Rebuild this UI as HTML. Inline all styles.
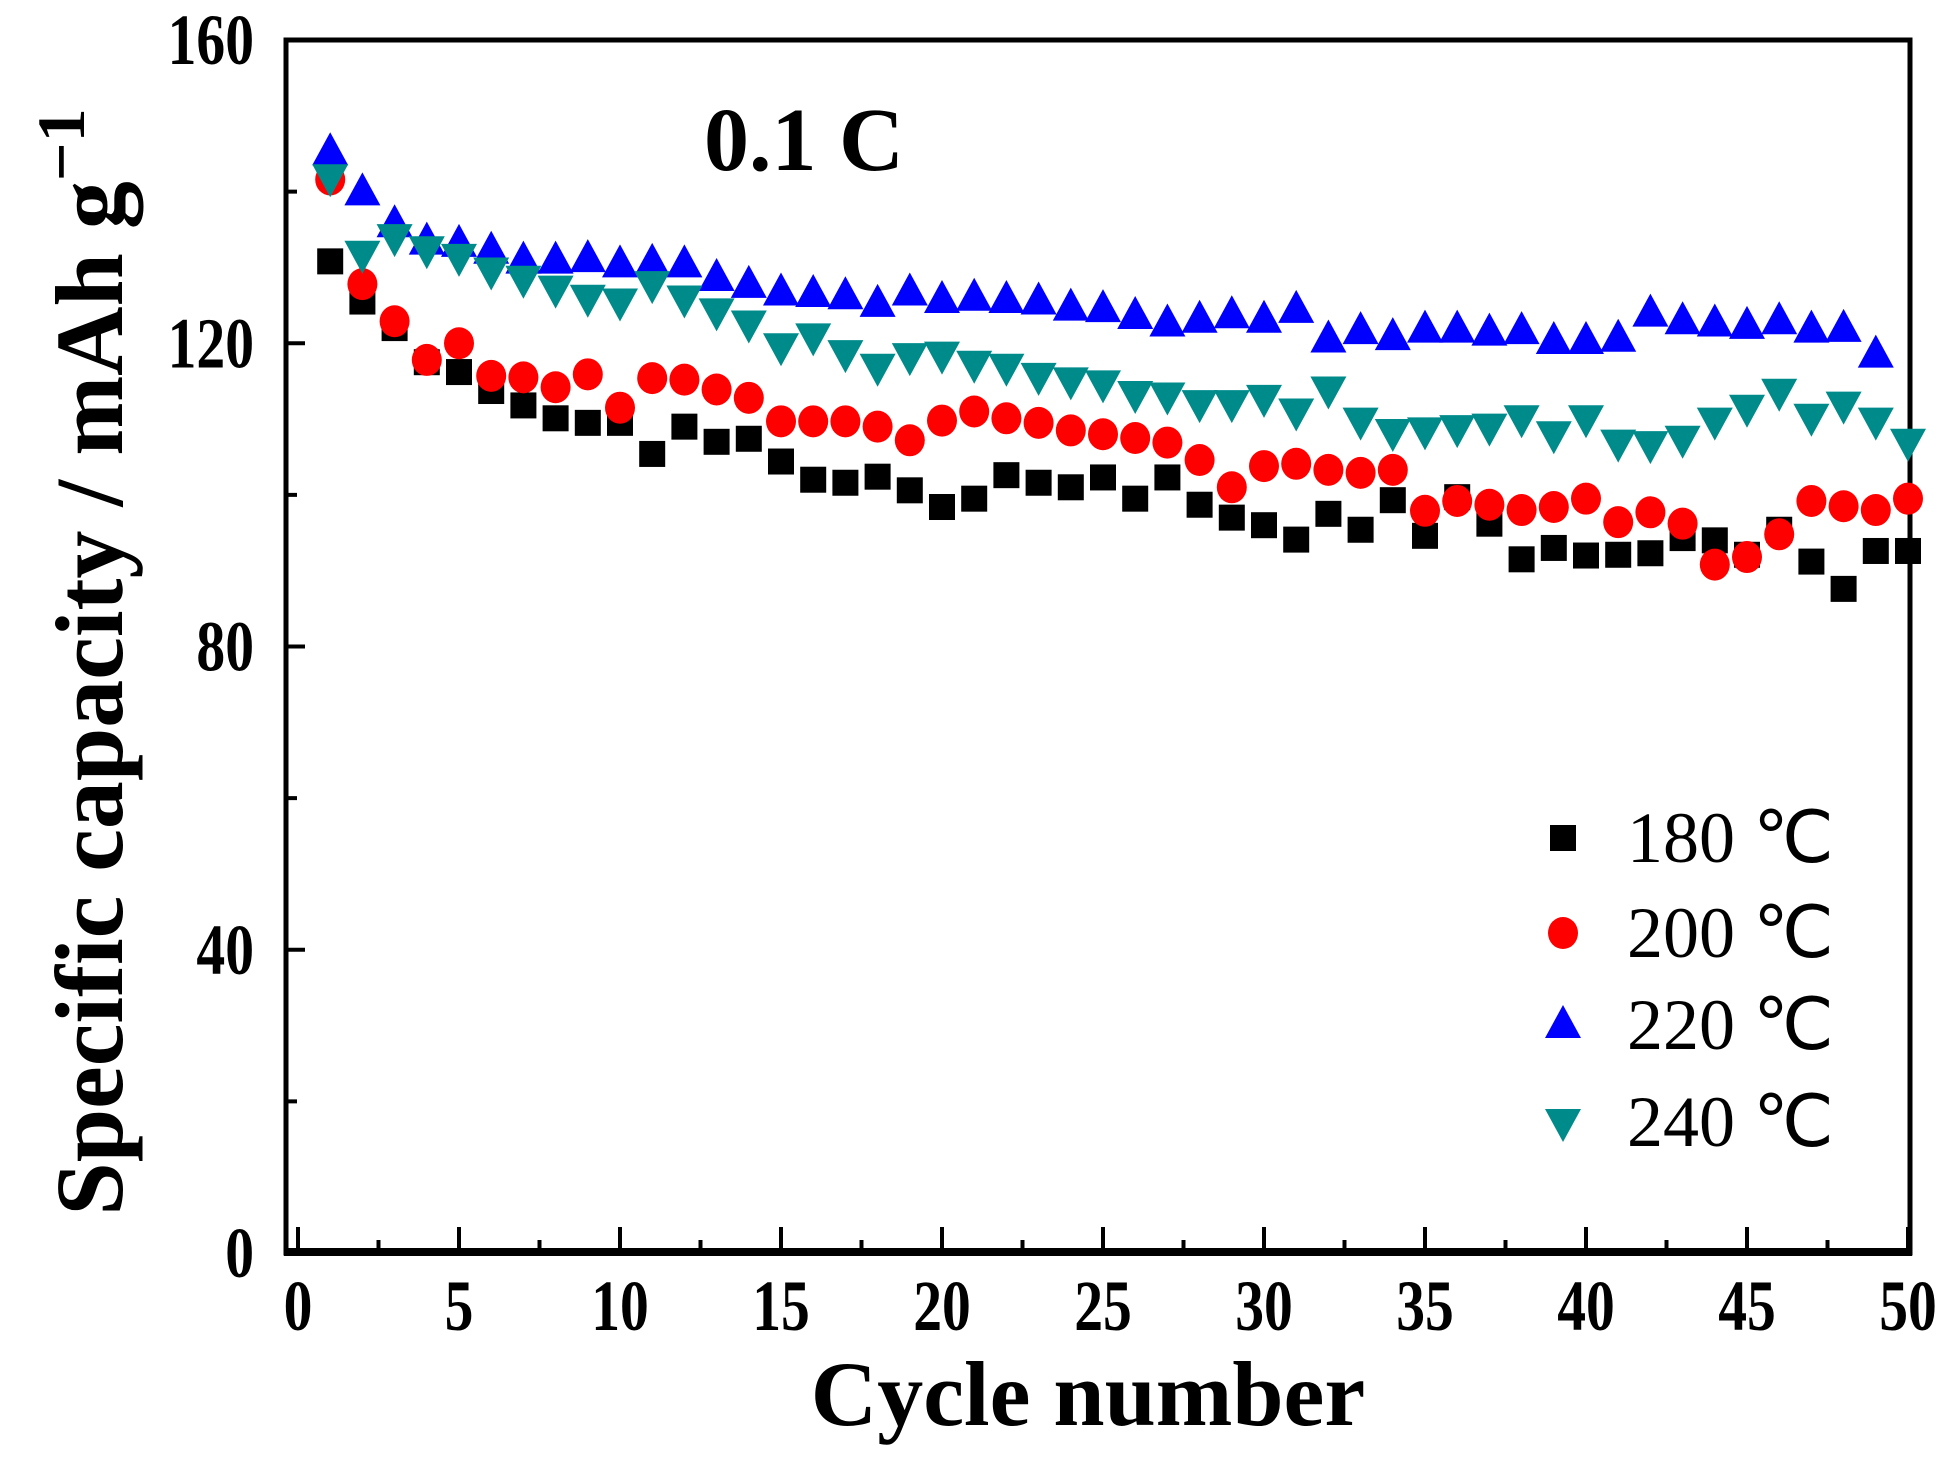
<!DOCTYPE html>
<html><head><meta charset="utf-8"><style>
html,body{margin:0;padding:0;background:#fff;}
svg{display:block;}
text{font-family:"Liberation Serif",serif;}
</style></head><body>
<svg id="chart" width="1945" height="1460" viewBox="0 0 1945 1460" xmlns="http://www.w3.org/2000/svg">
<g id="axes"></g>
<g id="marks"></g>
<g id="legend"></g>
</svg>
<script>
const cycles = Array.from({length:50},(_,i)=>i+1);
const s180 = [130.8,125.5,122,117.5,116.2,113.7,111.8,110.1,109.5,109.5,105.4,109,107,107.4,104.4,102,101.6,102.4,100.6,98.4,99.5,102.6,101.6,101,102.3,99.5,102.3,98.7,97,96,94.1,97.5,95.4,99.3,94.6,99.7,96.2,91.5,93,92,92.1,92.3,94.3,94,92.1,95.4,91.2,87.6,92.6,92.6];
const s200 = [141.6,127.8,122.9,117.8,120,115.7,115.5,114.2,115.9,111.5,115.4,115.2,113.9,112.8,109.7,109.7,109.7,109,107.2,109.8,111,110.1,109.5,108.5,108,107.5,106.9,104.6,101,103.8,104.1,103.3,102.9,103.3,97.9,99.2,98.7,98,98.4,99.5,96.4,97.7,96.2,90.8,91.8,94.8,99.2,98.5,98,99.5];
const s220 = [145.2,139.9,135.7,133.4,133.1,132.2,130.9,130.9,131.1,130.4,130.6,130.4,128.6,127.7,126.7,126.5,126.2,125.2,126.7,125.7,126,125.7,125.5,124.7,124.5,123.6,122.6,123.1,123.7,123.1,124.4,120.5,121.6,120.8,121.8,121.8,121.4,121.6,120.3,120.3,120.6,123.9,122.9,122.6,122.3,122.9,121.8,121.9,118.5];
const s240 = [141.9,131.8,134,132.4,131.4,129.6,128.5,127.2,126,125.5,127.8,125.9,124.2,122.6,119.6,120.9,118.7,116.9,118.3,118.5,117.3,116.9,115.7,115.1,114.7,113.3,113.1,112.1,112.1,112.8,111,113.9,109.8,108.3,108.5,108.8,109,110.1,108,110.1,106.9,106.7,107.4,109.8,111.5,113.6,110.3,111.9,109.8,107];
const xTicks = [0,5,10,15,20,25,30,35,40,45,50];
const yTicks = [0,40,80,120,160];
const legendLabels = ["180 \u2103","200 \u2103","220 \u2103","240 \u2103"];

const NS="http://www.w3.org/2000/svg";
const X = v => 298 + v*(1908-298)/50;
const Y = v => 1253 - v*(1253-40)/160;
function mk(tag, attrs, parent){const e=document.createElementNS(NS,tag);for(const k in attrs)e.setAttribute(k,attrs[k]);parent.appendChild(e);return e;}
const axes=document.getElementById('axes'), marks=document.getElementById('marks'), legend=document.getElementById('legend');

let f=mk('rect',{x:286,y:40,width:1624,height:1213,fill:'none',stroke:'#000','stroke-width':5},axes);


let bl=mk('line',{x1:284,y1:1252,x2:1912,y2:1252,stroke:'#000','stroke-width':8},axes);



for(let v=0; v<=50; v+=2.5){
  const major = v%5===0;
  const t=mk('line',{x1:X(v),x2:X(v),y1:1250,y2:major?1227:1240,stroke:'#000','stroke-width':4},axes);
  
  
}
xTicks.forEach(v=>{
  const t=mk('text',{x:0,y:0,'text-anchor':'middle','font-size':72,'font-weight':'bold',transform:`translate(${X(v)},1330) scale(0.8,1)`},axes);
  t.textContent=v;
  
  
});
for(let v=0; v<=160; v+=20){
  const major = v%40===0;
  const t=mk('line',{x1:288,x2:major?305:297,y1:Y(v),y2:Y(v),stroke:'#000','stroke-width':4},axes);
  
  
}
yTicks.forEach(v=>{
  const t=mk('text',{x:0,y:0,'text-anchor':'end','font-size':72,'font-weight':'bold',transform:`translate(254,${Y(v)+24}) scale(0.8,1)`},axes);
  t.textContent=v;
  
  
});
let xt=mk('text',{x:1088,y:1425,'text-anchor':'middle','font-size':92,'font-weight':'bold'},axes);
xt.textContent='Cycle number';


let yt=mk('text',{x:0,y:0,'text-anchor':'middle','font-size':96,'font-weight':'bold',transform:'translate(122,662) rotate(-90)'},axes);
yt.innerHTML='Specific capacity / mAh g<tspan dy="-38" font-size="68">\u22121</tspan>';


let ct=mk('text',{x:704,y:170,'font-size':90,'font-weight':'bold'},axes);
ct.textContent='0.1 C';



function square(cx,cy,g,c){return mk('rect',{x:cx-13,y:cy-13,width:26,height:26,fill:c},g);}
function circle(cx,cy,g,c){return mk('ellipse',{cx:cx,cy:cy,rx:15,ry:16,fill:c},g);}
function up(cx,cy,g,c){return mk('polygon',{points:`${cx},${cy-20} ${cx+18},${cy+13} ${cx-18},${cy+13}`,fill:c},g);}
function down(cx,cy,g,c){return mk('polygon',{points:`${cx},${cy+20} ${cx+18},${cy-13} ${cx-18},${cy-13}`,fill:c},g);}
const series=[
  {name:'series-180',data:s180,fn:square,c:'#000000'},
  {name:'series-200',data:s200,fn:circle,c:'#ff0000'},
  {name:'series-220',data:s220,fn:up,c:'#0000ff'},
  {name:'series-240',data:s240,fn:down,c:'#008b8b'}
];
series.forEach((s,si)=>{
  const g=mk('g',{},marks);
  
  
  s.data.forEach((v,i)=>{
    const m=s.fn(X(cycles[i]),Y(v),g,s.c);
    
    
  });
  const ly=[838,933,1025,1122][si];
  const lg=mk('g',{},legend);
  
  
  s.fn(1563,ly,lg,s.c);
  const t=mk('text',{x:1627,y:ly+24,'font-size':72},lg);
  t.textContent=legendLabels[si];
});
</script>
</body></html>
